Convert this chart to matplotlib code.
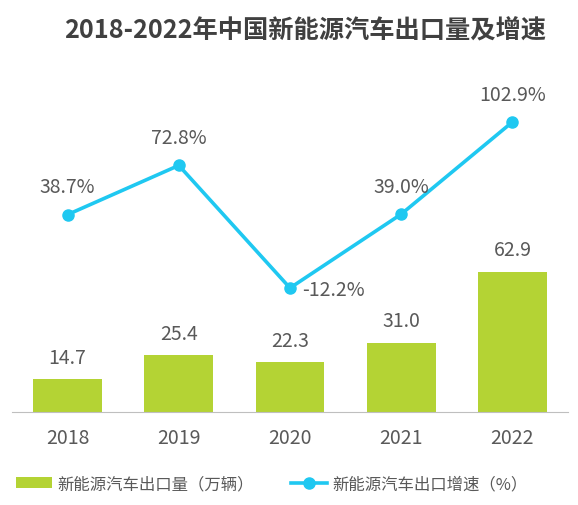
import numpy as np
import matplotlib.pyplot as plt

plt.rcParams['font.family'] = ['Noto Sans CJK SC', 'DejaVu Sans']

# 数据
years = ['2018', '2019', '2020', '2021', '2022']
export_vol = [14.7, 25.4, 22.3, 31.0, 62.9]          # 万辆
growth = [38.7, 72.8, -12.2, 39.0, 102.9]            # %

bar_color = '#B4D334'
line_color = '#1FC8F1'
text_color = '#595959'

fig = plt.figure(figsize=(5.78, 5.06), dpi=100)
ax = fig.add_axes([12 / 578, 93 / 506, 556 / 578, 353 / 506])
x = np.arange(len(years))

# 柱状图：出口量
bars = ax.bar(x, export_vol, width=0.62, color=bar_color, label='新能源汽车出口量（万辆）')
for xi, v in zip(x, export_vol):
    ax.annotate(f'{v:.1f}', (xi, v), xytext=(0, 16), textcoords='offset points',
                ha='center', va='center', fontsize=14, color=text_color)
ax.set_ylim(0, 158.6)
ax.set_xlim(-0.5, 4.5)

# 折线图：增速
ax2 = ax.twinx()
line, = ax2.plot(x, growth, color=line_color, lw=2.6, marker='o', markersize=8,
                 label='新能源汽车出口增速（%）')
ax2.set_ylim(-98.2, 146.6)
for xi, v in zip(x, growth):
    if v < 0:
        ax2.annotate(f'{v:.1f}%', (xi, v), xytext=(9, -1), textcoords='offset points',
                     ha='left', va='center', fontsize=14, color=text_color)
    else:
        ax2.annotate(f'{v:.1f}%', (xi, v), xytext=(0, 20), textcoords='offset points',
                     ha='center', va='center', fontsize=14, color=text_color)

# 坐标轴样式
for a in (ax, ax2):
    for s in ['top', 'right', 'left']:
        a.spines[s].set_visible(False)
    a.set_yticks([])
ax2.spines['bottom'].set_visible(False)
ax.spines['bottom'].set_color('#BFBFBF')
ax.set_xticks(x)
ax.set_xticklabels(years)
ax.tick_params(axis='x', length=0, pad=11, labelsize=14, labelcolor=text_color)

fig.text(0.527, 0.938, '2018-2022年中国新能源汽车出口量及增速', ha='center', va='center',
         fontsize=18.2, fontweight='bold', color='#404040')

fig.legend([bars, line], ['新能源汽车出口量（万辆）', '新能源汽车出口增速（%）'],
           loc='center left', bbox_to_anchor=(0.002, 0.042), ncol=2, frameon=False,
           prop={'size': 11.8}, labelcolor=text_color,
           handlelength=2.2, handletextpad=0.3, columnspacing=2.3)

fig.savefig('out.png', dpi=100)
plt.close()
